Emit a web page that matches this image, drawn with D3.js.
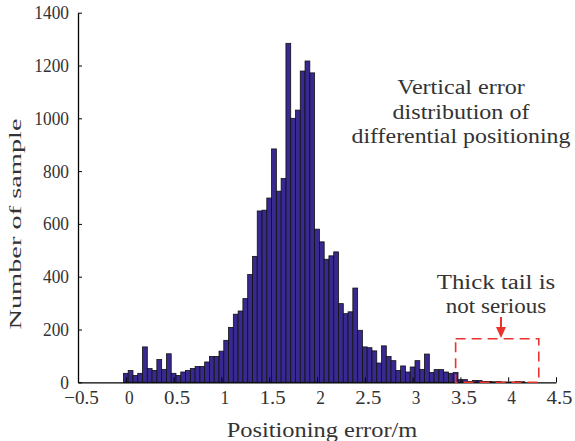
<!DOCTYPE html>
<html>
<head>
<meta charset="utf-8">
<script src="https://cdn.jsdelivr.net/npm/d3@7"></script>
<style>
  html, body { margin: 0; padding: 0; background: #fff; }
  svg { display: block; }
  text { font-family: "Liberation Serif", serif; fill: #333; }
</style>
</head>
<body>
<svg id="canvas" width="575" height="441"></svg>
<script>
// bin centres (m) and counts
const binCenters = [0.00, 0.05, 0.10, 0.15, 0.20, 0.25, 0.30, 0.35, 0.40, 0.45,
  0.50, 0.55, 0.60, 0.65, 0.70, 0.75, 0.80, 0.85, 0.90, 0.95,
  1.00, 1.05, 1.10, 1.15, 1.20, 1.25, 1.30, 1.35, 1.40, 1.45,
  1.50, 1.55, 1.60, 1.65, 1.70, 1.75, 1.80, 1.85, 1.90, 1.95,
  2.00, 2.05, 2.10, 2.15, 2.20, 2.25, 2.30, 2.35, 2.40, 2.45,
  2.50, 2.55, 2.60, 2.65, 2.70, 2.75, 2.80, 2.85, 2.90, 2.95,
  3.00, 3.05, 3.10, 3.15, 3.20, 3.25, 3.30, 3.35, 3.40, 3.45,
  3.50, 3.55, 3.60, 3.65, 3.70, 3.75, 3.80, 3.85, 3.90, 3.95,
  4.00, 4.05, 4.10, 4.15]
const counts = [34, 45, 26, 34, 134, 52, 45, 86, 49, 108,
  34, 26, 39, 45, 52, 60, 60, 77, 98, 98,
  118, 159, 208, 258, 270, 317, 408, 477, 649, 652,
  698, 884, 724, 772, 1284, 1000, 1031, 1179, 1217, 1172,
  580, 532, 466, 479, 494, 298, 260, 267, 357, 197,
  134, 131, 119, 73, 138, 98, 82, 45, 62, 39,
  58, 82, 49, 107, 37, 48, 48, 39, 34, 37,
  10, 10, 3, 7, 7, 3, 3, 2, 3, 1,
  1, 1, 3, 2]
const binWidth = 0.05

const xTicks = [-0.5, 0, 0.5, 1, 1.5, 2, 2.5, 3, 3.5, 4, 4.5]
const xTickLabels = ["\u22120.5", "0", "0.5", "1", "1.5", "2", "2.5", "3", "3.5", "4", "4.5"]
const yTicks = [0, 200, 400, 600, 800, 1000, 1200, 1400]

const xLabel = "Positioning error/m"
const yLabel = "Number of sample"
const noteTop = ["Vertical error", "distribution of", "differential positioning"]
const noteTail = ["Thick tail is", "not serious"]
const tailBox = [3.45, 4.32, 165] // x0, x1, count at top

const squash = 0.76 // the reference is squeezed horizontally

const svg = d3.select("#canvas")
const mLeft = 78, mRight = 556, mTop = 12.7, mBottom = 382.3

const x = d3.scaleLinear().domain([-0.5, 4.5]).range([mLeft, mRight])
const y = d3.scaleLinear().domain([0, 1400]).range([mBottom, mTop])

// fixed-pitch width via textLength, so text looks condensed like the source
function condense(sel, fs) {
  sel.each(function() {
    const t = d3.select(this)
    const n = t.text().length
    t.attr("font-size", fs)
     .attr("textLength", n * 0.6 * fs * squash)
     .attr("lengthAdjust", "spacingAndGlyphs")
  })
}

// bars
svg.append("g")
  .selectAll("rect")
  .data(counts)
  .enter().append("rect")
  .attr("x", (d, i) => x(binCenters[i] - binWidth / 2))
  .attr("width", x(binWidth) - x(0))
  .attr("y", d => y(d))
  .attr("height", d => y(0) - y(d))
  .attr("fill", "#37298f")
  .attr("stroke", "#111")
  .attr("stroke-width", 0.8)

// axes
const xAxis = d3.axisBottom(x)
  .tickValues(xTicks)
  .tickFormat((d, i) => xTickLabels[i])
  .tickSizeInner(-5).tickSizeOuter(0).tickPadding(8)
const gx = svg.append("g").attr("transform", `translate(0,${mBottom})`).call(xAxis)
gx.select(".domain").attr("stroke", "#000").attr("stroke-width", 1.3)
gx.selectAll(".tick line").attr("stroke", "#000")
gx.selectAll(".tick text").attr("font-family", "Liberation Serif").attr("fill", "#333")
  .attr("dx", 3).call(condense, 19)

const yAxis = d3.axisLeft(y)
  .tickValues(yTicks)
  .tickFormat(d3.format("d"))
  .tickSizeInner(-4).tickSizeOuter(0).tickPadding(9)
const gy = svg.append("g").attr("transform", `translate(${mLeft},0)`).call(yAxis)
gy.select(".domain").attr("stroke", "#000").attr("stroke-width", 1.3)
gy.selectAll(".tick line").attr("stroke", "#000")
gy.selectAll(".tick text").attr("font-family", "Liberation Serif").attr("fill", "#333")
  .call(condense, 19)

// axis labels
svg.append("text")
  .attr("x", 322).attr("y", 437)
  .attr("text-anchor", "middle")
  .text(xLabel)
  .call(condense, 22)

svg.append("text")
  .attr("transform", `translate(21,224) scale(${squash},1) rotate(-90)`)
  .attr("text-anchor", "middle")
  .attr("font-size", 22)
  .attr("textLength", 16 * 0.6 * 22)
  .attr("lengthAdjust", "spacingAndGlyphs")
  .text(yLabel)

// annotations
svg.append("g").selectAll("text")
  .data(noteTop)
  .enter().append("text")
  .attr("x", 461)
  .attr("y", (d, i) => 94 + i * 24.5)
  .attr("text-anchor", "middle")
  .text(d => d)
  .call(condense, 20)

svg.append("g").selectAll("text")
  .data(noteTail)
  .enter().append("text")
  .attr("x", 496)
  .attr("y", (d, i) => 289 + i * 24)
  .attr("text-anchor", "middle")
  .text(d => d)
  .call(condense, 20)

const red = "#e8342c"
svg.append("rect")
  .attr("x", x(tailBox[0])).attr("y", y(tailBox[2]))
  .attr("width", x(tailBox[1]) - x(tailBox[0]))
  .attr("height", y(0) - y(tailBox[2]))
  .attr("fill", "none")
  .attr("stroke", red)
  .attr("stroke-width", 1.6)
  .attr("stroke-dasharray", "10,6")

const ax = 501
svg.append("line")
  .attr("x1", ax).attr("x2", ax)
  .attr("y1", 317).attr("y2", 330)
  .attr("stroke", red).attr("stroke-width", 2)
svg.append("path")
  .attr("d", `M${ax - 5},327 L${ax + 5},327 L${ax},338 Z`)
  .attr("fill", red)
</script>
</body>
</html>
